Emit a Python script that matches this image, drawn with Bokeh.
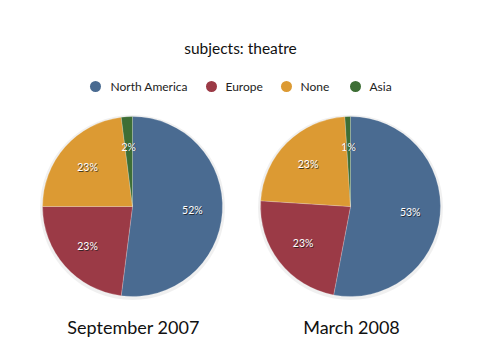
import math
from bokeh.plotting import figure
from bokeh.models import Range1d, ColumnDataSource
from bokeh.core.properties import value
from bokeh.embed import file_html
from bokeh.resources import INLINE

title_text = "subjects: theatre"
categories = ["North America", "Europe", "None", "Asia"]
colors = ["#4a6b91", "#9b3a46", "#dc9a33", "#3d6e35"]
periods = ["September 2007", "March 2008"]
sept_2007 = [52, 23, 23, 2]
march_2008 = [53, 23, 23, 1]
series = [sept_2007, march_2008]

W, H = 464, 344
FONT = "Lato"

def py(page_y):
    return H - page_y

def px(page_x):
    return page_x

p = figure(width=W, height=H, output_backend="svg", toolbar_location=None,
           x_range=Range1d(0, W), y_range=Range1d(0, H), min_border=0,
           outline_line_color=None, background_fill_color="white")
p.xaxis.visible = False
p.yaxis.visible = False
p.grid.visible = False

# title
p.text(x=[px(240)], y=[py(47)], text=[title_text], text_font=value(FONT),
       text_font_size="15.5px", text_color="#111111", text_align="center",
       text_baseline="middle")

# legend (manual)
leg_dot_x = [95, 211, 286, 355]
leg_txt_x = [110, 225, 300, 369]
p.scatter(x=[px(v) for v in leg_dot_x], y=[py(86)] * 4, size=11,
          marker="circle", fill_color=colors, line_color=None)
p.text(x=[px(v) for v in leg_txt_x], y=[py(86)] * 4, text=categories,
       text_font=value(FONT), text_font_size="12px", text_color="#222222",
       text_align="left", text_baseline="middle")

centers_x = [132, 350]
center_y = 206
R = 90
label_r = 60

for vals, cxp, period in zip(series, centers_x, periods):
    total = float(sum(vals))
    cum = 0.0
    starts, ends, lx, ly, labels = [], [], [], [], []
    for v in vals:
        a0 = math.pi / 2 - 2 * math.pi * cum / total
        cum += v
        a1 = math.pi / 2 - 2 * math.pi * cum / total
        starts.append(a0)
        ends.append(a1)
        mid = (a0 + a1) / 2
        lx.append(px(cxp) + label_r * math.cos(mid))
        ly.append(py(center_y) + label_r * math.sin(mid))
        labels.append(f"{v}%")
    # soft shadow
    p.scatter(x=[px(cxp)], y=[py(center_y) - 1], size=2 * R + 5, marker="circle",
              fill_color="#000000", fill_alpha=0.06, line_color=None)
    src = ColumnDataSource(dict(start=starts, end=ends, color=colors, cat=categories))
    p.wedge(x=px(cxp), y=py(center_y), radius=R, start_angle="start", end_angle="end",
            direction="clock", fill_color="color", line_color="#ffffff",
            line_alpha=0.25, line_width=0.8, source=src)
    # label shadow then label
    p.text(x=[v + 0.8 for v in lx], y=[v - 0.8 for v in ly], text=labels,
           text_font=value(FONT), text_font_size="10.5px", text_color="#1a1a1a",
           text_alpha=0.75, text_align="center", text_baseline="middle")
    p.text(x=lx, y=ly, text=labels, text_font=value(FONT), text_font_size="10.5px",
           text_color="#ffffff", text_align="center", text_baseline="middle")
    # period label
    p.text(x=[px(cxp + 1)], y=[py(326)], text=[period], text_font=value(FONT),
           text_font_size="18px", text_color="#111111", text_align="center",
           text_baseline="middle")

open("out.html", "w").write(file_html(p, INLINE))
